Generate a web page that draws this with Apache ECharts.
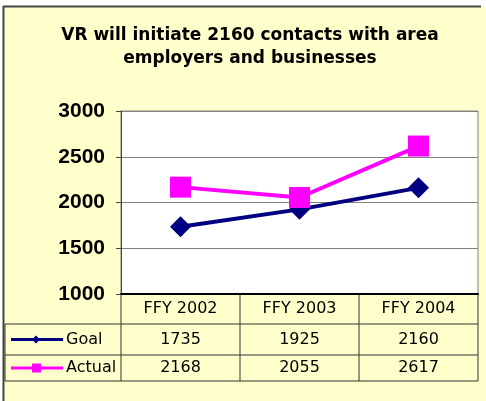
<!DOCTYPE html>
<html>
<head>
<meta charset="utf-8">
<script src="https://cdn.jsdelivr.net/npm/echarts@6/dist/echarts.min.js"></script>
<style>
  html, body { margin: 0; padding: 0; background: #ffffff; }
  #chart { width: 486px; height: 401px; }
</style>
</head>
<body>
<div id="chart"></div>
<script>
// chart data
var categories = ['FFY 2002', 'FFY 2003', 'FFY 2004']
var goalValues = [1735, 1925, 2160]
var actualValues = [2168, 2055, 2617]
var seriesNames = ['Goal', 'Actual']

// layout of plot + data table
var plotL = 121, plotT = 111, plotW = 357, plotH = 183
var rowH = [30, 31, 26]  // header, goal, actual
var tableL = 5
var tableFont = '16px "DejaVu Sans"'

function buildTable() {
  var els = []
  var colW = plotW / categories.length
  var y0 = plotT + plotH
  var y1 = y0 + rowH[0], y2 = y1 + rowH[1], y3 = y2 + rowH[2]
  var lineStyle = { stroke: '#333', lineWidth: 1 }
  // horizontal rules
  ;[y1, y2, y3].forEach(function (y) {
    els.push({ type: 'line', shape: { x1: tableL, y1: y, x2: plotL + plotW, y2: y }, style: lineStyle, silent: true })
  })
  // vertical rules
  for (var i = 0; i <= categories.length; i++) {
    var x = plotL + i * colW
    els.push({ type: 'line', shape: { x1: x, y1: y0, x2: x, y2: y3 }, style: lineStyle, silent: true })
  }
  els.push({ type: 'line', shape: { x1: tableL, y1: y1, x2: tableL, y2: y3 }, style: lineStyle, silent: true })
  var rows = [goalValues, actualValues]
  var rowY = [(y1 + y2) / 2, (y2 + y3) / 2]
  categories.forEach(function (c, i) {
    var cx = plotL + (i + 0.5) * colW
    els.push({ type: 'text', x: cx, y: (y0 + y1) / 2, style: { text: c, fill: '#000', font: tableFont, align: 'center', verticalAlign: 'middle' }, silent: true })
    rows.forEach(function (r, k) {
      els.push({ type: 'text', x: cx, y: rowY[k], style: { text: String(r[i]), fill: '#000', font: tableFont, align: 'center', verticalAlign: 'middle' }, silent: true })
    })
  })
  // legend keys
  var colors = ['#000080', '#ff00ff']
  rows.forEach(function (r, k) {
    var y = rowY[k]
    els.push({ type: 'line', shape: { x1: 11, y1: y, x2: 63, y2: y }, style: { stroke: colors[k], lineWidth: 3 }, silent: true })
    if (k === 0) {
      els.push({ type: 'polygon', shape: { points: [[36, y - 4], [40, y], [36, y + 4], [32, y]] }, style: { fill: colors[k] }, silent: true })
    } else {
      els.push({ type: 'rect', shape: { x: 32, y: y - 4.5, width: 9, height: 9 }, style: { fill: colors[k] }, silent: true })
    }
    els.push({ type: 'text', x: 66, y: y, style: { text: seriesNames[k], fill: '#000', font: tableFont, verticalAlign: 'middle' }, silent: true })
  })
  return els
}

var chart = echarts.init(document.getElementById('chart'), null, { renderer: 'canvas' })
var option = {
  animation: false,
  backgroundColor: '#ffffff',
  graphic: [
    { type: 'rect', z: -10, shape: { x: 4, y: 7, width: 482, height: 394 }, style: { fill: '#ffffcc' }, silent: true },
    { type: 'line', shape: { x1: 3, y1: 6.5, x2: 481, y2: 6.5 }, style: { stroke: '#444', lineWidth: 2 }, silent: true },
    { type: 'line', shape: { x1: 3.5, y1: 6, x2: 3.5, y2: 401 }, style: { stroke: '#444', lineWidth: 2 }, silent: true }
  ].concat(buildTable()),
  title: {
    text: 'VR will initiate 2160 contacts with area\nemployers and businesses',
    left: 245,
    top: 19,
    textAlign: 'center',
    textStyle: { fontFamily: 'DejaVu Sans', fontSize: 17, fontWeight: 'bold', color: '#000', lineHeight: 23 }
  },
  grid: {
    left: plotL, top: plotT, width: plotW, height: plotH,
    show: true, backgroundColor: '#ffffff', borderColor: '#808080', borderWidth: 1
  },
  xAxis: {
    type: 'category',
    data: categories,
    axisLine: { lineStyle: { color: '#000', width: 2 } },
    axisTick: { show: false },
    axisLabel: { show: false }
  },
  yAxis: {
    type: 'value',
    min: 1000, max: 3000, interval: 500,
    axisLine: { show: true, lineStyle: { color: '#444' } },
    axisTick: { show: true, length: 5, lineStyle: { color: '#444' } },
    axisLabel: {
      fontFamily: 'Arial', fontSize: 21, fontWeight: 'bold', color: '#000', margin: 16,
      formatter: function (v) { return String(v) }
    },
    splitLine: { lineStyle: { color: '#808080' } }
  },
  series: [
    {
      name: seriesNames[0], type: 'line', data: goalValues,
      symbol: 'diamond', symbolSize: 21,
      lineStyle: { color: '#000080', width: 4 },
      itemStyle: { color: '#000080' }
    },
    {
      name: seriesNames[1], type: 'line', data: actualValues,
      symbol: 'rect', symbolSize: 21,
      lineStyle: { color: '#ff00ff', width: 4 },
      itemStyle: { color: '#ff00ff' }
    }
  ]
}
option && chart.setOption(option)
window.addEventListener('resize', () => chart.resize())
</script>
</body>
</html>
